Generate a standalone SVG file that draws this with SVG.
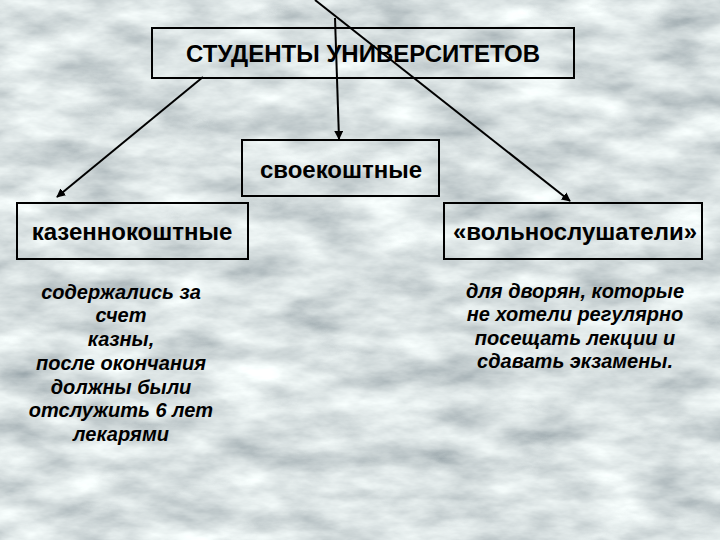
<svg xmlns="http://www.w3.org/2000/svg" width="720" height="540" viewBox="0 0 720 540">
<defs>
<filter id="clouds" x="0" y="0" width="100%" height="100%" filterUnits="userSpaceOnUse">
<feTurbulence type="fractalNoise" baseFrequency="0.014 0.036" numOctaves="5" seed="7"/>
<feColorMatrix type="matrix" values="0.85 0 0 0 0.27  0.85 0 0 0 0.33  0.8 0 0 0 0.36  0 0 0 0 1"/>
</filter>
<marker id="arr" viewBox="0 0 10 10" refX="9" refY="5" markerWidth="9" markerHeight="9" markerUnits="userSpaceOnUse" orient="auto">
<path d="M0,0 L10,5 L0,10 z" fill="#000"/>
</marker>
<style>
.box{fill:none;stroke:#000;stroke-width:2}
.head{font-family:"Liberation Sans",Arial,sans-serif;font-weight:bold;font-size:24px;fill:#000;text-anchor:middle}
.body{font-family:"Liberation Sans",Arial,sans-serif;font-weight:bold;font-style:italic;font-size:20px;fill:#000;text-anchor:middle}
.conn{stroke:#000;stroke-width:2;fill:none;marker-end:url(#arr)}
</style>
</defs>
<rect width="720" height="540" fill="#c0cccc"/>
<rect width="720" height="540" filter="url(#clouds)"/>
<g id="connectors">
<line class="conn" x1="203" y1="77" x2="57" y2="197"/>
<line class="conn" x1="335" y1="18" x2="339" y2="139"/>
<line class="conn" x1="315" y1="0" x2="570" y2="201"/>
</g>
<g id="root">
<rect class="box" x="152" y="28" width="422" height="50"/>
<text class="head" x="363" y="62">СТУДЕНТЫ УНИВЕРСИТЕТОВ</text>
</g>
<g id="svoekoshtnye">
<rect class="box" x="242" y="140" width="197" height="56"/>
<text class="head" x="341" y="178">своекоштные</text>
</g>
<g id="kazennokoshtnye">
<rect class="box" x="17" y="203" width="231" height="56"/>
<text class="head" x="132" y="240">казеннокоштные</text>
</g>
<g id="volnoslushateli">
<rect class="box" x="444" y="203" width="258" height="56"/>
<text class="head" x="575" y="240">«вольнослушатели»</text>
</g>
<g id="kazennokoshtnye-desc">
<text class="body" x="121" y="299">содержались за</text>
<text class="body" x="121" y="322">счет</text>
<text class="body" x="121" y="346">казны,</text>
<text class="body" x="121" y="370">после окончания</text>
<text class="body" x="121" y="394">должны были</text>
<text class="body" x="121" y="417">отслужить 6 лет</text>
<text class="body" x="121" y="441">лекарями</text>
</g>
<g id="volnoslushateli-desc">
<text class="body" x="575" y="298">для дворян, которые</text>
<text class="body" x="575" y="321">не хотели регулярно</text>
<text class="body" x="575" y="345">посещать лекции и</text>
<text class="body" x="575" y="368">сдавать экзамены.</text>
</g>
</svg>
